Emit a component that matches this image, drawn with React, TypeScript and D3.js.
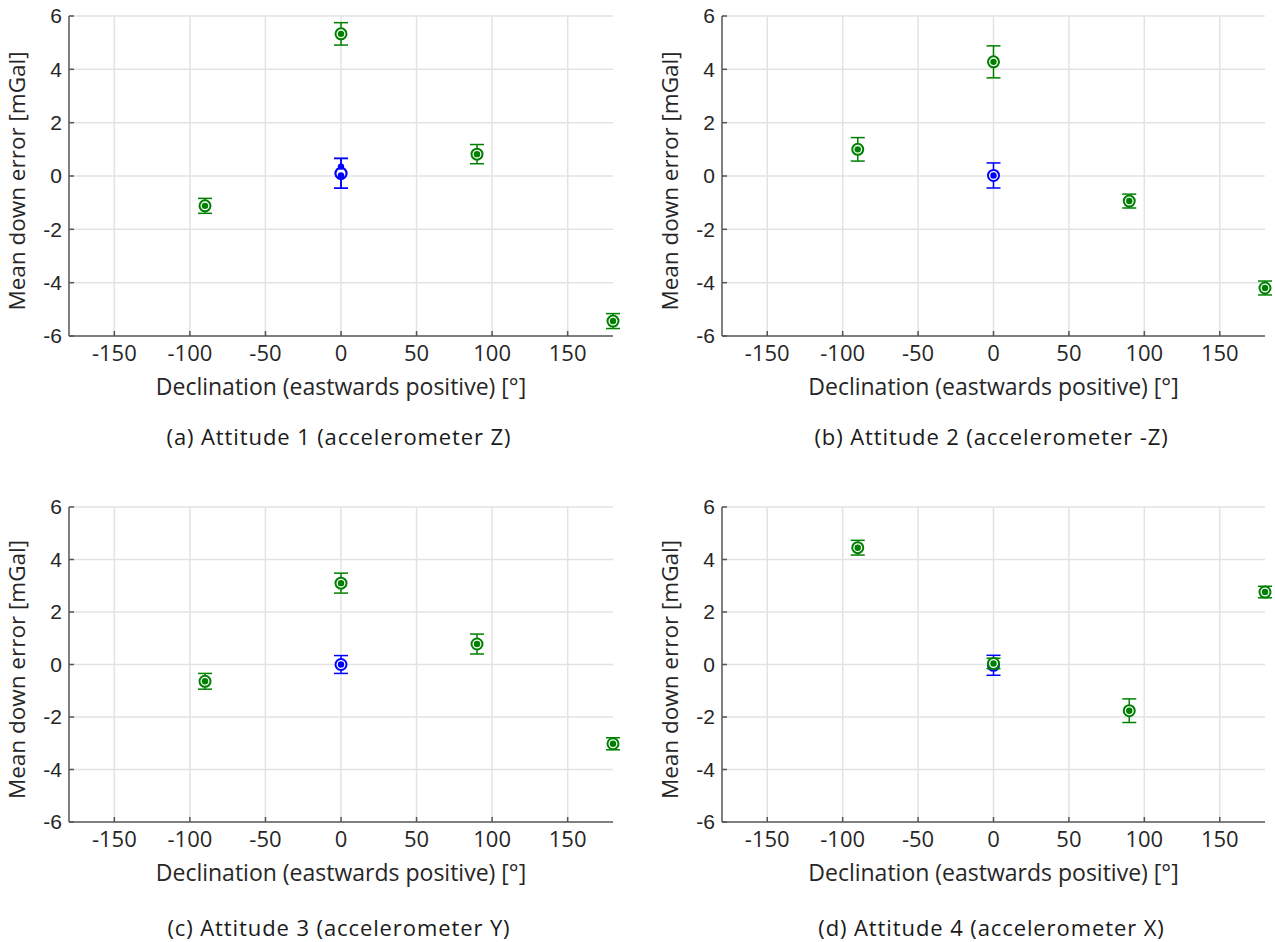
import React from "react";
import * as d3 from "d3";

// Declination tick labels and y ticks
const xTicks = [-150, -100, -50, 0, 50, 100, 150];
const yTicks = [-6, -4, -2, 0, 2, 4, 6];

// Rotated attitudes (green): declination in degrees
const rotDecl = [-90, 0, 90, 180];
const rotMeanA = [-1.12, 5.33, 0.82, -5.44];
const rotErrA = [0.28, 0.42, 0.36, 0.28];
const rotMeanB = [1.0, 4.28, -0.94, -4.2];
const rotErrB = [0.44, 0.6, 0.26, 0.26];
const rotMeanC = [-0.64, 3.1, 0.78, -3.02];
const rotErrC = [0.3, 0.38, 0.38, 0.23];
const rotMeanD = [4.45, 0.04, -1.76, 2.76];
const rotErrD = [0.28, 0.2, 0.45, 0.22];

// Reference orientation (blue) at declination 0
const refDecl = [0];
const refMeanA = [0.1];
const refErrA = [0.56];
const refDotsA = [0.35, 0.02];
const refMeanB = [0.02];
const refErrB = [0.47];
const refMeanC = [0.0];
const refErrC = [0.34];
const refMeanD = [-0.03];
const refErrD = [0.38];

const captions = [
  "(a) Attitude 1 (accelerometer Z)",
  "(b) Attitude 2 (accelerometer -Z)",
  "(c) Attitude 3 (accelerometer Y)",
  "(d) Attitude 4 (accelerometer X)",
];

const GREEN = "#008000";
const BLUE = "#0000ff";
const FONT = "'Open Sans', 'Noto Sans', sans-serif";

type PanelData = {
  rotMean: number[];
  rotErr: number[];
  refMean: number[];
  refErr: number[];
  refDots: number[];
  greenOnTop: boolean;
};

const panels: PanelData[] = [
  { rotMean: rotMeanA, rotErr: rotErrA, refMean: refMeanA, refErr: refErrA, refDots: refDotsA, greenOnTop: false },
  { rotMean: rotMeanB, rotErr: rotErrB, refMean: refMeanB, refErr: refErrB, refDots: refMeanB, greenOnTop: false },
  { rotMean: rotMeanC, rotErr: rotErrC, refMean: refMeanC, refErr: refErrC, refDots: refMeanC, greenOnTop: false },
  { rotMean: rotMeanD, rotErr: rotErrD, refMean: refMeanD, refErr: refErrD, refDots: refMeanD, greenOnTop: true },
];

const frames = [
  { x0: 69, x1: 613, y0: 16, y1: 336, cap: 437 },
  { x0: 722, x1: 1265, y0: 16, y1: 336, cap: 437 },
  { x0: 69, x1: 613, y0: 507, y1: 822, cap: 928 },
  { x0: 722, x1: 1265, y0: 507, y1: 822, cap: 928 },
];

function Series({ xs, means, errs, dots, color, x, y }: any) {
  return (
    <g>
      {xs.map((d: number, i: number) => {
        const cx = x(d);
        const cy = y(means[i]);
        const top = y(means[i] + errs[i]);
        const bot = y(means[i] - errs[i]);
        return (
          <g key={i} stroke={color} fill="none">
            <line x1={cx} x2={cx} y1={top} y2={bot} strokeWidth={1.5} />
            <line x1={cx - 7} x2={cx + 7} y1={top} y2={top} strokeWidth={1.5} />
            <line x1={cx - 7} x2={cx + 7} y1={bot} y2={bot} strokeWidth={1.5} />
            <circle cx={cx} cy={cy} r={5.5} strokeWidth={2} fill="#fff" />
          </g>
        );
      })}
      {dots.map((v: number, i: number) => (
        <circle key={"d" + i} cx={x(xs[Math.min(i, xs.length - 1)])} cy={y(v)} r={3.2} fill={color} />
      ))}
    </g>
  );
}

function Panel({ data, frame, caption }: { data: PanelData; frame: any; caption: string }) {
  const x = d3.scaleLinear().domain([-180, 180]).range([frame.x0, frame.x1]);
  const y = d3.scaleLinear().domain([-6, 6]).range([frame.y1, frame.y0]);
  const midX = (frame.x0 + frame.x1) / 2;
  const midY = (frame.y0 + frame.y1) / 2;

  const green = (
    <Series xs={rotDecl} means={data.rotMean} errs={data.rotErr} dots={data.rotMean} color={GREEN} x={x} y={y} />
  );
  const blue = (
    <Series
      xs={data.refDots.length > 1 ? [0, 0] : refDecl}
      means={data.refDots.length > 1 ? [data.refMean[0], data.refMean[0]] : data.refMean}
      errs={data.refDots.length > 1 ? [data.refErr[0], data.refErr[0]] : data.refErr}
      dots={data.refDots}
      color={BLUE}
      x={x}
      y={y}
    />
  );

  return (
    <g>
      {/* grid */}
      {xTicks.map((t) => (
        <line key={"gx" + t} x1={x(t)} x2={x(t)} y1={frame.y0} y2={frame.y1} stroke="#e3e3e3" strokeWidth={1.5} />
      ))}
      {yTicks.filter((t) => t > -6).map((t) => (
        <line key={"gy" + t} x1={frame.x0} x2={frame.x1} y1={y(t)} y2={y(t)} stroke="#e3e3e3" strokeWidth={1.5} />
      ))}
      {/* axes */}
      <line x1={frame.x0} x2={frame.x1} y1={frame.y1} y2={frame.y1} stroke="#555" strokeWidth={1.5} />
      <line x1={frame.x0} x2={frame.x0} y1={frame.y0} y2={frame.y1} stroke="#555" strokeWidth={1.5} />
      {xTicks.map((t) => (
        <g key={"tx" + t}>
          <line x1={x(t)} x2={x(t)} y1={frame.y1} y2={frame.y1 - 5} stroke="#555" strokeWidth={1.5} />
          <text x={x(t)} y={frame.y1 + 25} textAnchor="middle" fontSize={22} fill="#262626" fontFamily={FONT}>
            {t}
          </text>
        </g>
      ))}
      {yTicks.map((t) => (
        <g key={"ty" + t}>
          <line x1={frame.x0} x2={frame.x0 + 5} y1={y(t)} y2={y(t)} stroke="#555" strokeWidth={1.5} />
          <text x={frame.x0 - 7} y={y(t)} dy="0.35em" textAnchor="end" fontSize={21} fill="#262626" fontFamily="'Liberation Sans', Arial, sans-serif">
            {t}
          </text>
        </g>
      ))}
      <text x={midX} y={frame.y1 + 59} textAnchor="middle" fontSize={23} fill="#262626" fontFamily={FONT}>
        Declination (eastwards positive) [°]
      </text>
      <text
        transform={`translate(${frame.x0 - 44},${midY + 5}) rotate(-90)`}
        textAnchor="middle"
        fontSize={22.5}
        fill="#262626"
        fontFamily={FONT}
      >
        Mean down error [mGal]
      </text>
      {data.greenOnTop ? (
        <>
          {blue}
          {green}
        </>
      ) : (
        <>
          {green}
          {blue}
        </>
      )}
      <text x={midX - 2} y={frame.cap} dy="0.35em" textAnchor="middle" fontSize={22} letterSpacing={0.9} fill="#1a1a1a" fontFamily={FONT}>
        {caption}
      </text>
    </g>
  );
}

export default function App() {
  return (
    <svg
      width={1275}
      height={942}
      style={{ position: "absolute", left: 0, top: 0, background: "#fff" }}
    >
      <rect width={1275} height={942} fill="#fff" />
      {panels.map((p, i) => (
        <Panel key={i} data={p} frame={frames[i]} caption={captions[i]} />
      ))}
    </svg>
  );
}
